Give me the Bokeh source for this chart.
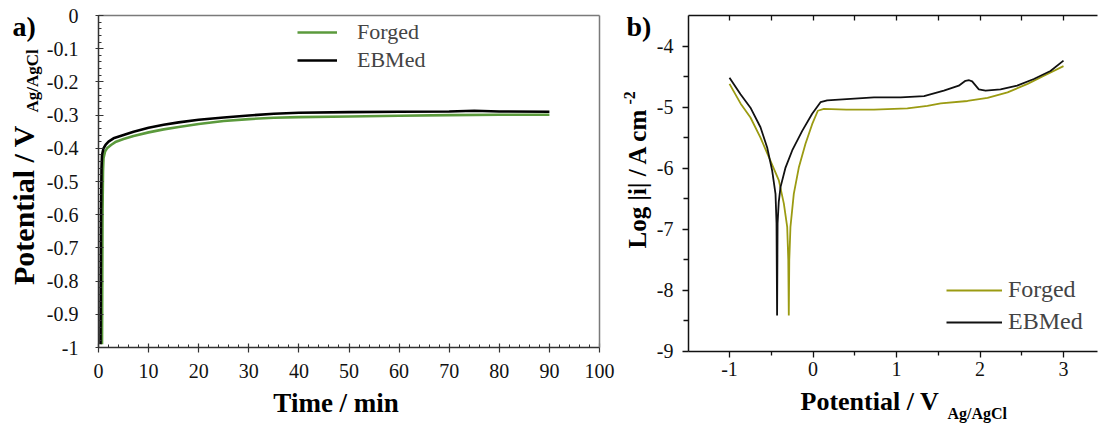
from bokeh.plotting import figure
from bokeh.layouts import row
from bokeh.models import FixedTicker, Label, Legend, LegendItem, LinearAxis, Range1d
from bokeh.embed import file_html
from bokeh.resources import INLINE

# ---------------- data: panel a (open circuit potential vs time) ----------------
time_forged = [0.7, 0.75, 0.8, 0.9, 1.0, 1.3, 1.7, 2.5, 3.5, 5, 7, 10, 13, 16, 20, 25, 30, 35, 40, 50, 60, 70, 80, 90]
pot_forged = [-0.99, -0.80, -0.60, -0.47, -0.43, -0.41, -0.40, -0.39, -0.38, -0.372, -0.363, -0.352, -0.343,
              -0.336, -0.327, -0.318, -0.312, -0.308, -0.306, -0.304, -0.302, -0.300, -0.299, -0.299]
time_ebm = [0.4, 0.45, 0.5, 0.6, 0.7, 1.0, 1.4, 2, 3, 5, 7, 10, 13, 16, 20, 25, 30, 35, 40, 50, 60, 70, 75, 80, 90]
pot_ebm = [-0.99, -0.80, -0.60, -0.46, -0.42, -0.40, -0.39, -0.38, -0.37, -0.36, -0.35, -0.338, -0.329, -0.322,
           -0.314, -0.307, -0.301, -0.296, -0.293, -0.291, -0.290, -0.289, -0.287, -0.289, -0.290]

# ---------------- data: panel b (polarisation curves) ----------------
e_forged = [-1.0, -0.868, -0.749, -0.629, -0.509, -0.409, -0.349, -0.309, -0.296, -0.29, -0.284, -0.27, -0.23,
            -0.17, -0.09, -0.01, 0.058, 0.13, 0.4, 0.73, 1.13, 1.37, 1.53, 1.85, 2.09, 2.33, 2.57, 2.76, 3.0]
logi_forged = [-4.62, -4.94, -5.17, -5.50, -5.88, -6.20, -6.58, -6.96, -7.5, -8.41, -7.5, -6.96, -6.42, -5.99,
               -5.60, -5.28, -5.06, -5.03, -5.04, -5.04, -5.02, -4.98, -4.94, -4.90, -4.85, -4.76, -4.62, -4.49, -4.33]
e_ebm = [-1.0, -0.868, -0.749, -0.629, -0.549, -0.489, -0.449, -0.437, -0.43, -0.424, -0.41, -0.389, -0.329,
         -0.249, -0.129, -0.01, 0.09, 0.17, 0.73, 1.05, 1.33, 1.567, 1.746, 1.826, 1.87, 1.906, 1.986, 2.066,
         2.246, 2.445, 2.645, 2.844, 3.0]
logi_ebm = [-4.52, -4.79, -5.01, -5.33, -5.66, -6.04, -6.42, -6.9, -8.41, -6.9, -6.55, -6.31, -5.99, -5.71,
            -5.39, -5.11, -4.92, -4.89, -4.84, -4.84, -4.82, -4.73, -4.65, -4.57, -4.56, -4.58, -4.71, -4.73,
            -4.71, -4.65, -4.54, -4.41, -4.24]

# ---------------- ticks ----------------
ya_ticks = [0, -0.1, -0.2, -0.3, -0.4, -0.5, -0.6, -0.7, -0.8, -0.9, -1]
ya_labels = ["0", "-0.1", "-0.2", "-0.3", "-0.4", "-0.5", "-0.6", "-0.7", "-0.8", "-0.9", "-1"]
xa_ticks = [0, 10, 20, 30, 40, 50, 60, 70, 80, 90, 100]
xa_labels = ["0", "10", "20", "30", "40", "50", "60", "70", "80", "90", "100"]
yb_ticks = [-9, -8, -7, -6, -5, -4]
yb_labels = ["-9", "-8", "-7", "-6", "-5", "-4"]
xb_ticks = [-1, 0, 1, 2, 3]
xb_labels = ["-1", "0", "1", "2", "3"]

SERIF = "Liberation Serif"
GREEN = "#5b9a3c"
OLIVE = "#9b9b12"
H = 425

# ======================= panel a =======================
WA = 620
A_X0_PX, A_PPX = 98.0, 5.01        # pixel of t=0, pixels per minute
A_Y0_PX, A_PPY = 15.0, 332.0       # pixel of E=0, pixels per volt
ax0 = -A_X0_PX / A_PPX
ay1 = A_Y0_PX / A_PPY
p1 = figure(width=WA, height=H, x_range=Range1d(ax0, ax0 + WA / A_PPX), y_range=Range1d(ay1 - H / A_PPY, ay1),
            x_axis_type=None, y_axis_type=None, output_backend="svg", toolbar_location=None, min_border=0)
p1.outline_line_color = None


def a_pt(px, py):
    return ax0 + px / A_PPX, ay1 - py / A_PPY


ya_minor = [round(-1 + 0.02 * k, 2) for k in range(51) if k % 5]
xa_minor = [2 * k for k in range(51) if k % 5]

ax_l = LinearAxis(ticker=FixedTicker(ticks=ya_ticks, minor_ticks=ya_minor), fixed_location=0, bounds=(-1, 0),
                  major_label_overrides=dict(zip(ya_ticks, ya_labels)))
ax_b = LinearAxis(ticker=FixedTicker(ticks=xa_ticks, minor_ticks=xa_minor), fixed_location=-1, bounds=(0, 100),
                  major_label_overrides=dict(zip(xa_ticks, xa_labels)))
ax_t = LinearAxis(ticker=FixedTicker(ticks=[], minor_ticks=[]), fixed_location=0, bounds=(0, 100))
ax_r = LinearAxis(ticker=FixedTicker(ticks=[], minor_ticks=[]), fixed_location=100, bounds=(-1, 0))
for ax in (ax_l, ax_b):
    ax.axis_line_color = "#333333"
    ax.axis_line_width = 1.5
    ax.major_tick_line_color = "#333333"
    ax.minor_tick_line_color = "#333333"
    ax.major_tick_line_width = 1.2
    ax.minor_tick_line_width = 1.0
    ax.major_label_text_font = SERIF
    ax.major_label_text_font_size = "20px"
    ax.major_label_text_color = "#111111"
for ax in (ax_t, ax_r):
    ax.axis_line_color = "#7a7a7a"
    ax.axis_line_width = 1.5
    ax.major_tick_in = ax.major_tick_out = ax.minor_tick_in = ax.minor_tick_out = 0
ax_l.major_tick_in, ax_l.major_tick_out = 5, 3
ax_l.minor_tick_in, ax_l.minor_tick_out = 3, 0
ax_l.major_label_standoff = 17
ax_b.major_tick_in, ax_b.major_tick_out = 4, 5
ax_b.minor_tick_in, ax_b.minor_tick_out = 3, 0
ax_b.major_label_standoff = 11
p1.add_layout(ax_l, "left")
p1.add_layout(ax_b, "below")
p1.add_layout(ax_t, "above")
p1.add_layout(ax_r, "right")

r1f = p1.line(time_forged, pot_forged, line_color=GREEN, line_width=2.6)
r1e = p1.line(time_ebm, pot_ebm, line_color="black", line_width=2.6)

leg1 = Legend(items=[LegendItem(label="Forged", renderers=[r1f]), LegendItem(label="EBMed", renderers=[r1e])],
              location=(297, H - 73), border_line_color=None, background_fill_alpha=0, padding=0, margin=0,
              spacing=2, glyph_width=40, glyph_height=20, label_height=20, label_standoff=20,
              label_text_font=SERIF, label_text_font_size="22px")
p1.add_layout(leg1)


def add_label(p, conv, px, py, text, size, angle=0.0, align="left"):
    # (px, py) is the page position of the middle of the text line
    x, y = conv(px, py)
    p.add_layout(Label(x=x, y=y, text=text, text_font=SERIF, text_font_size=size, text_font_style="bold",
                       angle=angle, text_align=align, text_baseline="middle", text_color="black"))


add_label(p1, a_pt, 12, 26, "a)", "28px")
add_label(p1, a_pt, 339, 402, "Time  / min", "27px", align="center")
add_label(p1, a_pt, 23, 117, "Potential  / V", "30px", angle=1.5708, align="right")
add_label(p1, a_pt, 32, 112, "Ag/AgCl", "17px", angle=1.5708, align="left")

# ======================= panel b =======================
WB = 478
B_XM1_PX, B_PPX = 729.0 - WA, 83.5     # pixel (local) of E=-1, pixels per volt
B_YM4_PX, B_PPY = 45.5, 61.09          # pixel of log i = -4, pixels per decade
bx0 = -1 - B_XM1_PX / B_PPX
by1 = -4 + B_YM4_PX / B_PPY
p2 = figure(width=WB, height=H, x_range=Range1d(bx0, bx0 + WB / B_PPX), y_range=Range1d(by1 - H / B_PPY, by1),
            x_axis_type=None, y_axis_type=None, output_backend="svg", toolbar_location=None, min_border=0)
p2.outline_line_color = None


def b_pt(px, py):
    return bx0 + (px - WA) / B_PPX, by1 - py / B_PPY


b_left, _ = b_pt(688, 0)
b_right, _ = b_pt(1097, 0)
_, b_top = b_pt(0, 15)
_, b_bot = b_pt(0, 351)

bx_l = LinearAxis(ticker=FixedTicker(ticks=yb_ticks, minor_ticks=[-8.5, -7.5, -6.5, -5.5, -4.5]),
                  fixed_location=b_left, bounds=(b_bot, b_top),
                  major_label_overrides=dict(zip(yb_ticks, yb_labels)))
bx_b = LinearAxis(ticker=FixedTicker(ticks=xb_ticks, minor_ticks=[-0.5, 0.5, 1.5, 2.5]),
                  fixed_location=b_bot, bounds=(b_left, b_right),
                  major_label_overrides=dict(zip(xb_ticks, xb_labels)))
bx_t = LinearAxis(ticker=FixedTicker(ticks=[], minor_ticks=[-1, -0.5, 0, 0.5, 1, 1.5, 2, 2.5, 3]),
                  fixed_location=b_top, bounds=(b_left, b_right))
for ax in (bx_l, bx_b, bx_t):
    ax.axis_line_color = "#111111"
    ax.axis_line_width = 1.5
    ax.major_tick_line_color = "#111111"
    ax.minor_tick_line_color = "#111111"
    ax.major_tick_line_width = 1.3
    ax.minor_tick_line_width = 1.3
    ax.major_label_text_font = SERIF
    ax.major_label_text_font_size = "20px"
    ax.major_label_text_color = "#111111"
bx_l.major_tick_in, bx_l.major_tick_out = 0, 6
bx_l.minor_tick_in, bx_l.minor_tick_out = 0, 5
bx_l.major_label_standoff = 9
bx_b.major_tick_in, bx_b.major_tick_out = 0, 6
bx_b.minor_tick_in, bx_b.minor_tick_out = 0, 4
bx_b.major_label_standoff = 4
bx_t.major_tick_in, bx_t.major_tick_out = 0, 0
bx_t.minor_tick_in, bx_t.minor_tick_out = 5, 0
p2.add_layout(bx_l, "left")
p2.add_layout(bx_b, "below")
p2.add_layout(bx_t, "above")

r2f = p2.line(e_forged, logi_forged, line_color=OLIVE, line_width=1.8)
r2e = p2.line(e_ebm, logi_ebm, line_color="#111111", line_width=1.8)

leg2 = Legend(items=[LegendItem(label="Forged", renderers=[r2f]), LegendItem(label="EBMed", renderers=[r2e])],
              location=(946 - WA, H - 335), border_line_color=None, background_fill_alpha=0, padding=0, margin=0,
              spacing=5, glyph_width=56, glyph_height=22, label_height=22, label_standoff=6,
              label_text_font=SERIF, label_text_font_size="24px")
p2.add_layout(leg2)

add_label(p2, b_pt, 626, 26, "b)", "28px")
add_label(p2, b_pt, 800, 401, "Potential / V", "26px")
add_label(p2, b_pt, 947, 413, "Ag/AgCl", "16px")
add_label(p2, b_pt, 637, 248, "Log |i| / A cm", "25px", angle=1.5708)
add_label(p2, b_pt, 629, 104, "-2", "16px", angle=1.5708)

layout = row(p1, p2)
open("out.html", "w").write(file_html(layout, INLINE))
